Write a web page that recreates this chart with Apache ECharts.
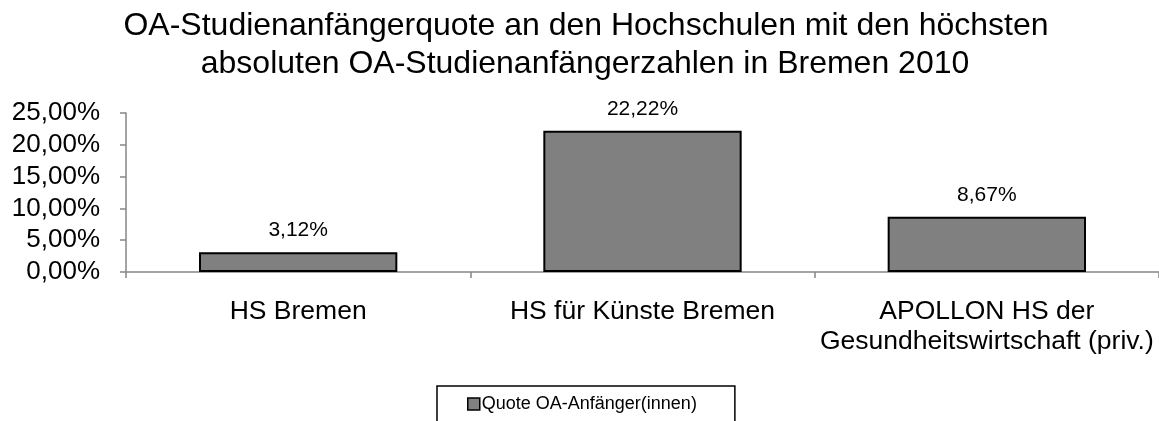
<!DOCTYPE html>
<html><head><meta charset="utf-8">
<script src="https://cdn.jsdelivr.net/npm/echarts@6/dist/echarts.min.js"></script>
<style>html,body{margin:0;padding:0;background:#fff}#c{width:1159px;height:421px}</style>
</head><body><div id="c"></div>
<script>
const titleLines = ["OA-Studienanfängerquote an den Hochschulen mit den höchsten", "absoluten OA-Studienanfängerzahlen in Bremen 2010"];
const categories = ["HS Bremen", "HS für Künste Bremen", "APOLLON HS der\nGesundheitswirtschaft (priv.)"];
const seriesName = "Quote OA-Anfänger(innen)";
const values = [0.0312, 0.2222, 0.0867];
const yMin = 0, yMax = 0.25, yStep = 0.05;

const FONT = "'Liberation Sans', Arial, sans-serif";
const pct = v => (v * 100).toFixed(2).replace('.', ',') + '%';
const titleStyle = {fontFamily: FONT, fontSize: 32, fontWeight: 'normal', color: '#000', lineHeight: 37};

const chart = echarts.init(document.getElementById('c'), null, {renderer: 'canvas'});
chart.setOption({
  backgroundColor: '#fff',
  animation: false,
  textStyle: {fontFamily: FONT, color: '#000'},
  title: [
    {text: titleLines[0], left: 586, top: 8, textAlign: 'center', padding: 0, textStyle: titleStyle},
    {text: titleLines[1], left: 585, top: 46, textAlign: 'center', padding: 0, textStyle: titleStyle}
  ],
  legend: {
    data: [seriesName], left: 437, top: 386,
    icon: 'rect', itemWidth: 12, itemHeight: 12,
    itemStyle: {borderColor: '#000', borderWidth: 1.5},
    padding: [9, 38, 20, 30], borderColor: '#000', borderWidth: 1.5,
    textStyle: {fontFamily: FONT, fontSize: 18, color: '#000', padding: [0, 0, 0, -3]}
  },
  grid: {left: 126, top: 113, bottom: 149, right: -2, containLabel: false},
  xAxis: {
    type: 'category', data: categories,
    axisLine: {lineStyle: {color: '#868686', width: 1.5}},
    axisTick: {show: true, length: 6, lineStyle: {color: '#868686', width: 1.5}},
    axisLabel: {fontFamily: FONT, fontSize: 26.5, color: '#000', margin: 25, lineHeight: 30, interval: 0}
  },
  yAxis: {
    type: 'value', min: yMin, max: yMax, interval: yStep,
    splitLine: {show: false},
    axisLine: {show: true, lineStyle: {color: '#868686', width: 1.5}},
    axisTick: {show: true, length: 6, lineStyle: {color: '#868686', width: 1.5}},
    axisLabel: {fontFamily: FONT, fontSize: 26, color: '#000', margin: 26, formatter: pct}
  },
  series: [{
    name: seriesName, type: 'bar', data: values, barWidth: '57.6%',
    itemStyle: {color: '#808080', borderColor: '#000', borderWidth: 2},
    label: {show: true, position: 'top', distance: 11, fontFamily: FONT, fontSize: 21, color: '#000', formatter: p => pct(p.value)}
  }]
});
</script></body></html>
